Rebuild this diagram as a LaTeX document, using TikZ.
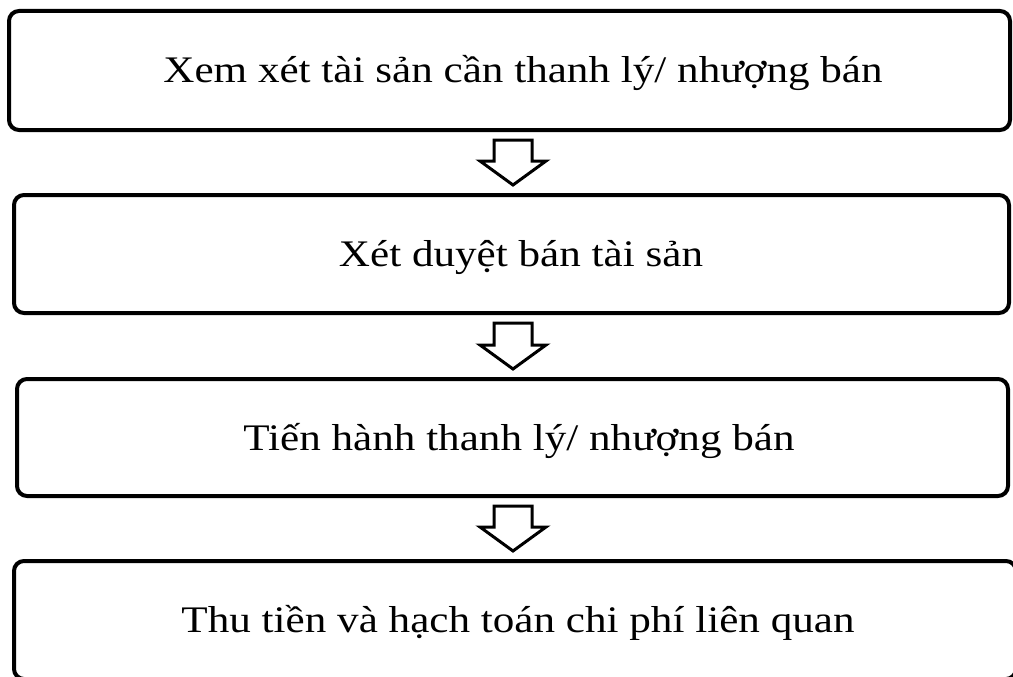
\documentclass[tikz,border=0pt]{standalone}
\usepackage{fontspec}
\setmainfont[FakeStretch=1.15]{Liberation Serif}
\usetikzlibrary{calc}
\tikzset{
  stepbox/.style={draw=black, line width=4pt, rounded corners=10pt, fill=white,
    inner sep=0pt, outer sep=0pt, font=\fontsize{37.5}{45}\selectfont,
    text height=25pt, text depth=0pt},
  blockarr/.style={draw=black, line width=3pt, fill=white, line join=miter}
}
\newcommand\downblock[3]{%
  \path[blockarr] let \p1=(#1.south), \p2=(#2.north) in
    (#3pt-19pt,\y1-10pt) -- (#3pt+19pt,\y1-10pt) -- (#3pt+19pt,\y2+34pt)
    -- (#3pt+33pt,\y2+34pt) -- (#3pt,\y2+10pt) -- (#3pt-33pt,\y2+34pt)
    -- (#3pt-19pt,\y2+34pt) -- cycle;}
\begin{document}
\begin{tikzpicture}[x={(1pt,0)}, y={(0,-1pt)}]
  \clip (0,0) rectangle (1013,677);
  \fill[white] (0,0) rectangle (1013,677);
  \node[stepbox, minimum width=1001pt, minimum height=119pt] (b1) at (509.5,70.5)
    {\hspace*{27pt}Xem xét tài sản cần thanh lý/ nhượng bán};
  \node[stepbox, minimum width=995pt, minimum height=118pt] (b2) at (511.5,254)
    {\hspace*{19pt}Xét duyệt bán tài sản};
  \node[stepbox, minimum width=991pt, minimum height=117pt] (b3) at (512.5,437.5)
    {\hspace*{13pt}Tiến hành thanh lý/ nhượng bán};
  \node[stepbox, minimum width=1002pt, minimum height=118pt] (b4) at (515,620)
    {\hspace*{6pt}Thu tiền và hạch toán chi phí liên quan};
  \downblock{b1}{b2}{513}
  \downblock{b2}{b3}{513}
  \downblock{b3}{b4}{513}
\end{tikzpicture}
\end{document}
